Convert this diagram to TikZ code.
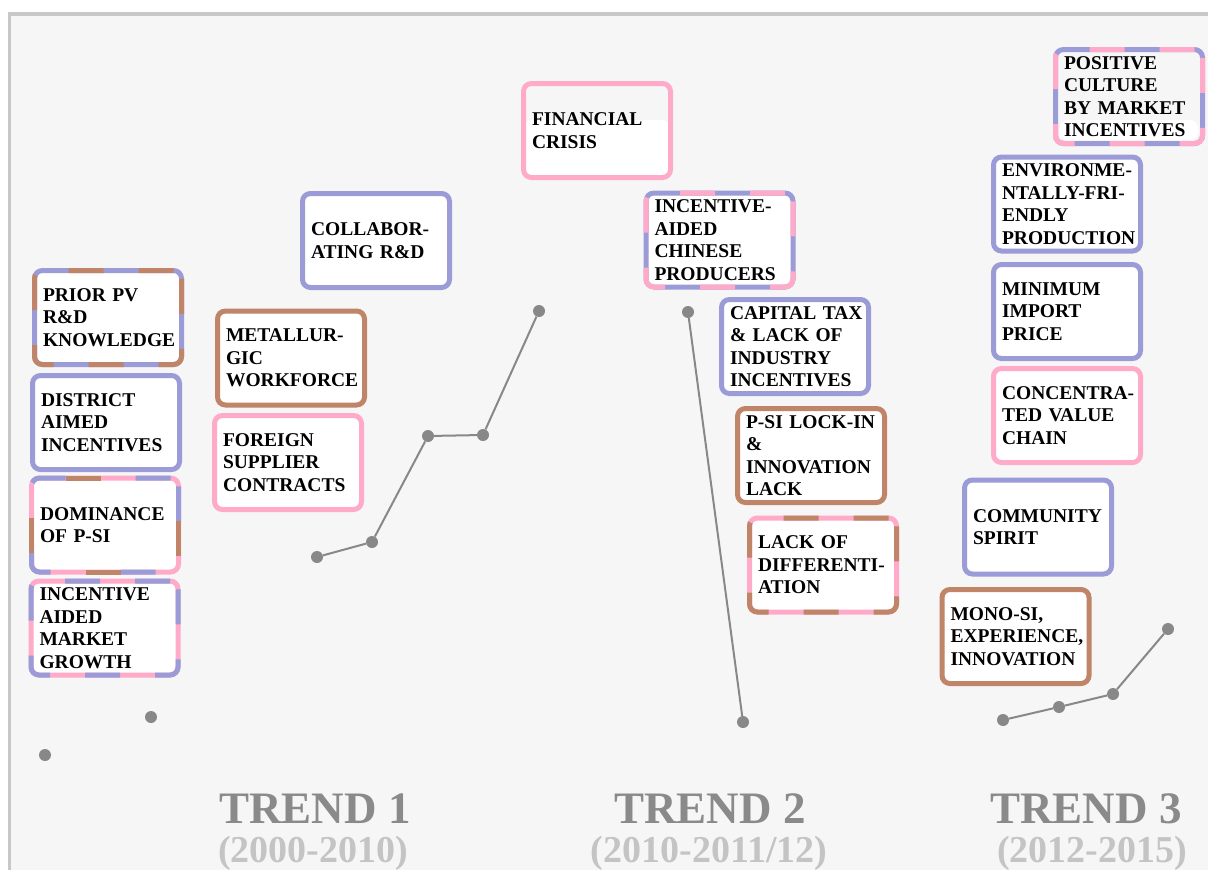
\documentclass[tikz,border=0pt]{standalone}
\usepackage{fontspec}
\setmainfont{Liberation Serif}
\hyphenpenalty=10000
\exhyphenpenalty=10000

\definecolor{lav}{RGB}{155,155,215}
\definecolor{brn}{RGB}{192,132,104}
\definecolor{pnk}{RGB}{255,170,200}
\definecolor{bg}{RGB}{246,246,246}
\definecolor{framegray}{RGB}{200,200,200}
\definecolor{dotgray}{RGB}{136,136,136}
\definecolor{trendgray}{RGB}{138,138,138}
\definecolor{yeargray}{RGB}{196,196,196}

\tikzset{
  box/.style={line width=5pt, rounded corners=8pt, fill=white,
    minimum width=147pt, minimum height=94pt, text width=130pt,
    inner xsep=0pt, inner ysep=0pt, align=left,
    font=\fontsize{19.5}{22.5}\selectfont\bfseries},
  onebox/.style={box, draw=#1},
  twobox/.style 2 args={box, draw=#1,
    postaction={draw=#2, line width=5pt, dash pattern=on 35pt off 35pt}},
  threebox/.style n args={3}{box, draw=#1,
    postaction={draw=#2, line width=5pt, dash pattern=on 35pt off 70pt},
    postaction={draw=#3, line width=5pt, dash pattern=on 35pt off 70pt, dash phase=35pt}},
  dot/.style={circle, fill=dotgray, inner sep=0pt, minimum size=12pt},
  conn/.style={draw=dotgray, line width=2pt},
  trend/.style={anchor=base, text=trendgray, font=\fontsize{45}{50}\selectfont\bfseries},
  years/.style={anchor=base, text=yeargray, font=\fontsize{38}{42}\selectfont\bfseries}
}

\begin{document}
\begin{tikzpicture}[x=1pt, y=-1pt]
  \useasboundingbox (0,0) rectangle (1208,870);
  % panel
  \fill[white] (0,0) rectangle (1208,870);
  \fill[bg] (9,14) rectangle (1208,870);
  \draw[framegray, line width=3.5pt] (9.25,870) -- (9.25,13.75) -- (1208,13.75);

  % trend 1 (2000-2010)
  \node[twobox={lav}{brn}] (prior) at (108,317.5) {PRIOR PV\\R\&D\\KNOWLEDGE};
  \node[onebox=lav] (district) at (106,422.5) {DISTRICT\\AIMED\\INCENTIVES};
  \node[threebox={pnk}{lav}{brn}] (dominance) at (105,525) {DOMINANCE\\OF P-SI};
  \node[twobox={pnk}{lav}] (market) at (104.5,628) {INCENTIVE\\AIDED\\MARKET\\GROWTH};
  \node[onebox=lav] (collab) at (376,240.5) {COLLABOR-\\ATING R\&D};
  \node[onebox=brn] (metal) at (291,358) {METALLUR-\\GIC\\WORKFORCE};
  \node[onebox=pnk] (foreign) at (288,462.5) {FOREIGN\\SUPPLIER\\CONTRACTS};

  % trend 2 (2010-2011/12)
  \node[onebox=pnk, fill=bg,
    path picture={\fill[white] ([yshift=10.5pt]path picture bounding box.west)
      rectangle (path picture bounding box.south east);}]
    (crisis) at (597,130.5) {FINANCIAL\\CRISIS};
  \node[twobox={lav}{pnk}] (chinese) at (719.5,240) {INCENTIVE-\\AIDED\\CHINESE\\PRODUCERS};
  \node[onebox=lav] (captax) at (795,346.5) {CAPITAL~TAX\\\& LACK OF\\INDUSTRY\\INCENTIVES};
  \node[onebox=brn] (lockin) at (811,455.5) {P-SI LOCK-IN\\\&\\INNOVATION\\LACK};
  \node[twobox={pnk}{brn}] (differ) at (823,565) {LACK OF\\DIFFERENTI-\\ATION};

  % trend 3 (2012-2015)
  \node[twobox={lav}{pnk}, fill=bg,
    path picture={\fill[white] ([xshift=-69pt,yshift=-23.5pt]path picture bounding box.center)
      rectangle ([xshift=69pt,yshift=-43.5pt]path picture bounding box.center);}]
    (culture) at (1129,96.5) {POSITIVE\\CULTURE\\BY MARKET\\INCENTIVES};
  \node[onebox=lav] (environ) at (1067,204) {ENVIRONME-\\NTALLY-FRI-\\ENDLY\\PRODUCTION};
  \node[onebox=lav] (minprice) at (1067,311.5) {MINIMUM\\IMPORT\\PRICE};
  \node[onebox=pnk] (chain) at (1067,415.5) {CONCENTRA-\\TED VALUE\\CHAIN};
  \node[onebox=lav] (community) at (1038,527) {COMMUNITY\\SPIRIT};
  \node[onebox=brn] (mono) at (1015.5,636.5) {MONO-SI,\\EXPERIENCE,\\INNOVATION};

  % trend curves
  \node[dot] (p0a) at (45,755) {};
  \node[dot] (p0b) at (151,717) {};

  \node[dot] (p1a) at (317,557) {};
  \node[dot] (p1b) at (372,542) {};
  \node[dot] (p1c) at (428,436) {};
  \node[dot] (p1d) at (483,435) {};
  \node[dot] (p1e) at (539,311) {};
  \draw[conn] (p1a) -- (p1b) -- (p1c) -- (p1d) -- (p1e);

  \node[dot] (p2a) at (688,312) {};
  \node[dot] (p2b) at (743,722) {};
  \draw[conn] (p2a) -- (p2b);

  \node[dot] (p3a) at (1003,720) {};
  \node[dot] (p3b) at (1059,707) {};
  \node[dot] (p3c) at (1113,694) {};
  \node[dot] (p3d) at (1168,629) {};
  \draw[conn] (p3a) -- (p3b) -- (p3c) -- (p3d);

  % period labels
  \node[trend] (tr1) at (315,823) {TREND 1};
  \node[years] (yr1) at (313,862) {(2000-2010)};
  \node[trend] (tr2) at (710,823) {TREND 2};
  \node[years] (yr2) at (709,862) {(2010-2011/12)};
  \node[trend] (tr3) at (1086,823) {TREND 3};
  \node[years] (yr3) at (1092,862) {(2012-2015)};
\end{tikzpicture}
\end{document}
